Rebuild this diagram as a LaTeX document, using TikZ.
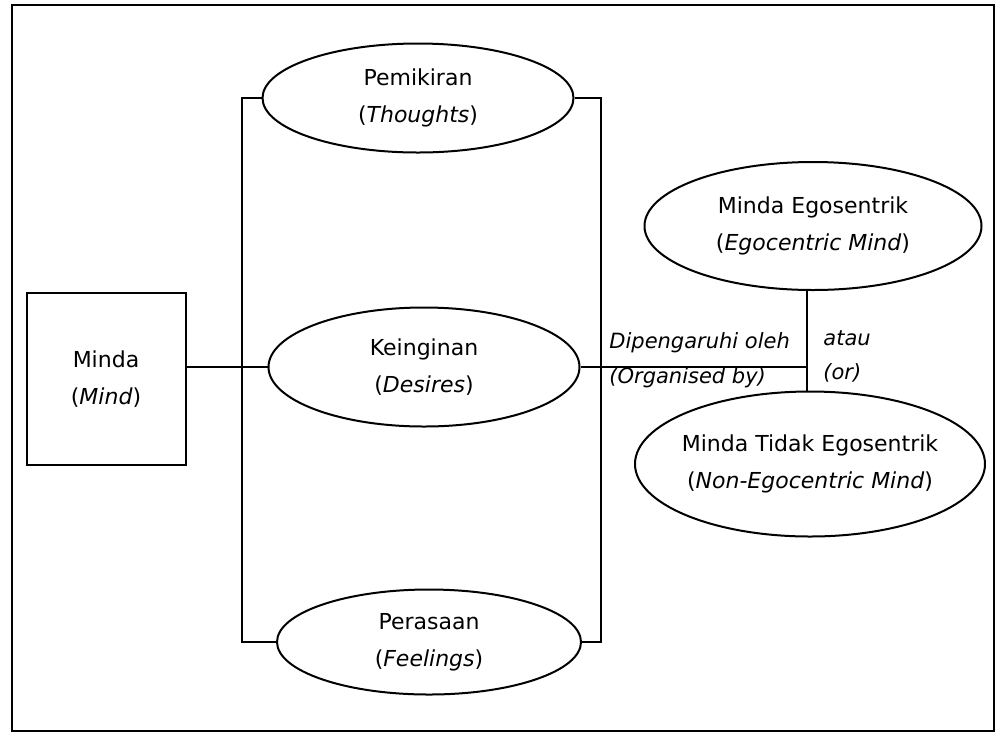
\documentclass[tikz,border=0pt]{standalone}
\usepackage{fontspec}
\setmainfont{DejaVu Sans}
\usetikzlibrary{shapes.geometric}

\tikzset{
    oval/.style={draw,line width=1pt,ellipse,inner sep=0pt,align=center},
    mbox/.style={draw,line width=1pt,rectangle,inner sep=0pt,align=center},
    link/.style={draw,line width=1pt},
    note/.style={anchor=west,inner sep=0pt,font=\fontsize{10.5}{18.5}\selectfont\itshape},
}

\begin{document}
\begin{tikzpicture}[x=0.5pt,y=-0.5pt,font=\fontsize{11}{18.5}\selectfont]
\useasboundingbox (0,0) rectangle (996,735);
\draw[line width=0.7pt] (12,5) rectangle (994,731);

\coordinate (lx) at (242,367);
\coordinate (rx) at (601,363);
\coordinate (join) at (807,363);

\node[mbox,minimum width=79.5pt,minimum height=86pt] (mind) at (106,379) {Minda\\(\textit{Mind})};

\node[oval,minimum width=155.5pt,minimum height=54.5pt] (thoughts) at (418,98) {Pemikiran\\(\textit{Thoughts})};
\node[oval,minimum width=155.5pt,minimum height=59.5pt] (desires) at (424,367) {Keinginan\\(\textit{Desires})};
\node[oval,minimum width=152pt,minimum height=52.5pt] (feelings) at (429,642) {Perasaan\\(\textit{Feelings})};

\node[oval,minimum width=168.5pt,minimum height=64pt] (ego) at (813,226) {Minda Egosentrik\\(\textit{Egocentric Mind})};
\node[oval,inner xsep=-2.5pt,minimum width=175pt,minimum height=72.5pt] (nonego) at (810,464) {Minda Tidak Egosentrik\\(\textit{Non-Egocentric Mind})};

%brackets
\draw[link] (thoughts.west) -| (lx) |- (feelings.west);
\draw[link] (thoughts.east) -| (rx) |- (feelings.east);
\draw[link] (mind.east |- desires.west) -- (desires.west);

\draw[link] (desires.east) -- (desires.east -| join);
\draw[link] (ego.south -| join) -- (nonego.north -| join);

\node[note] (dip) at (609,343) {Dipengaruhi oleh};
\node[note] (org) at (609,378) {(Organised by)};
\node[note] (atau) at (823,338) {atau};
\node[note] (or) at (823,373) {(or)};
\end{tikzpicture}
\end{document}
